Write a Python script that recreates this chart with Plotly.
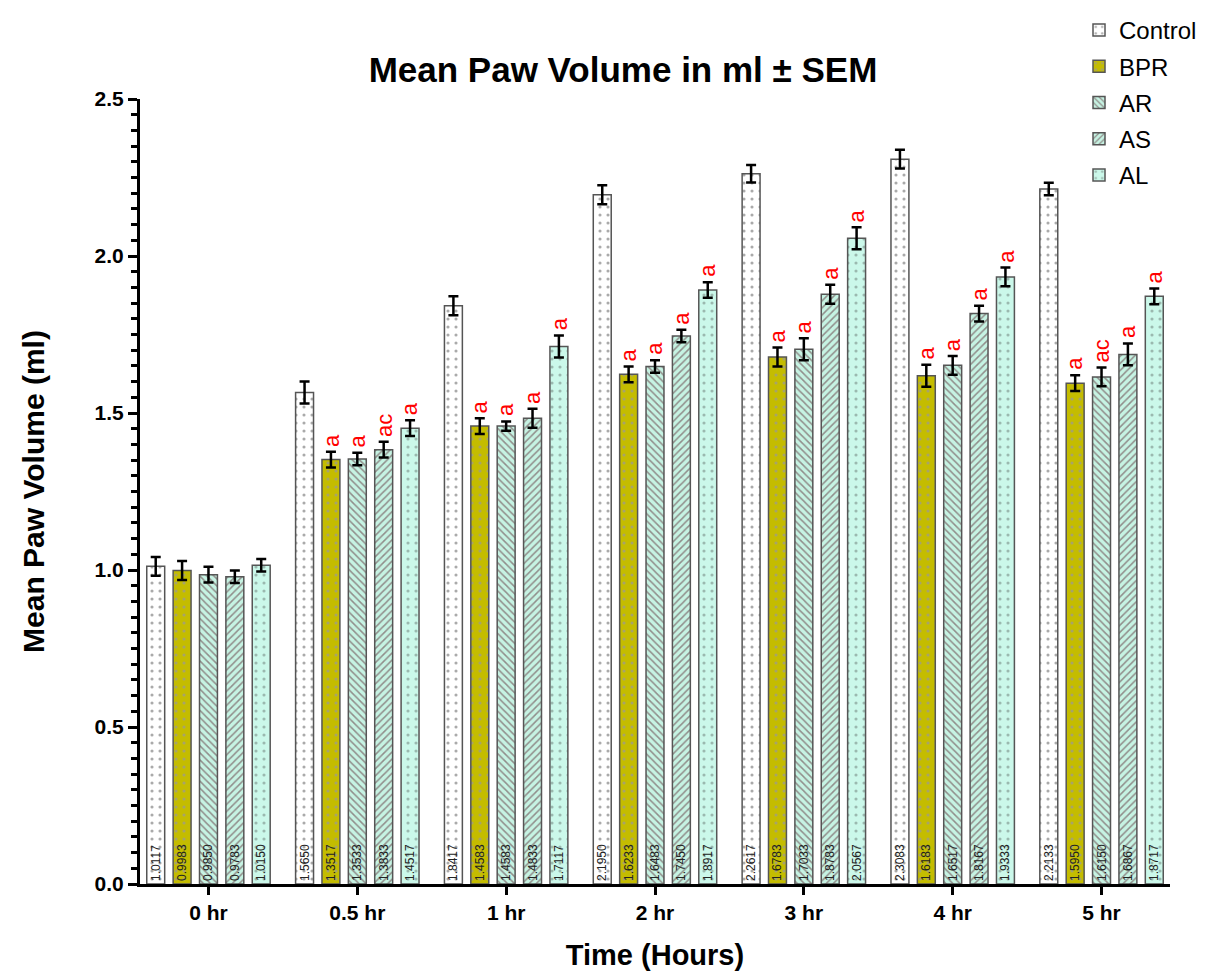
import plotly.graph_objects as go

categories = ["0 hr", "0.5 hr", "1 hr", "2 hr", "3 hr", "4 hr", "5 hr"]
series_names = ["Control", "BPR", "AR", "AS", "AL"]

control = [1.0117, 1.5650, 1.8417, 2.1950, 2.2617, 2.3083, 2.2133]
bpr = [0.9983, 1.3517, 1.4583, 1.6233, 1.6783, 1.6183, 1.5950]
ar = [0.9850, 1.3533, 1.4583, 1.6483, 1.7033, 1.6517, 1.6150]
as_ = [0.9783, 1.3833, 1.4833, 1.7450, 1.8783, 1.8167, 1.6867]
al = [1.0150, 1.4517, 1.7117, 1.8917, 2.0567, 1.9333, 1.8717]

sem_control = [0.030, 0.035, 0.030, 0.030, 0.028, 0.030, 0.020]
sem_bpr = [0.030, 0.025, 0.025, 0.025, 0.030, 0.035, 0.025]
sem_ar = [0.025, 0.020, 0.015, 0.020, 0.035, 0.030, 0.030]
sem_as = [0.020, 0.025, 0.030, 0.020, 0.030, 0.025, 0.035]
sem_al = [0.020, 0.025, 0.035, 0.025, 0.035, 0.030, 0.025]

sig_bpr = ["", "a", "a", "a", "a", "a", "a"]
sig_ar = ["", "a", "a", "a", "a", "a", "ac"]
sig_as = ["", "ac", "a", "a", "a", "a", "a"]
sig_al = ["", "a", "a", "a", "a", "a", "a"]

values = [control, bpr, ar, as_, al]
sems = [sem_control, sem_bpr, sem_ar, sem_as, sem_al]
sigs = [None, sig_bpr, sig_ar, sig_as, sig_al]

styles = [
    dict(bg="#ffffff", fg="#555555", shape=".", size=8, sol=0.12),
    dict(bg="#c4bc00", fg="#8a8ad0", shape=".", size=8, sol=0.12),
    dict(bg="#c6f3e3", fg="#5a2832", shape="\\", size=5, sol=0.3),
    dict(bg="#c6f3e3", fg="#5a2832", shape="/", size=5, sol=0.3),
    dict(bg="#cbf8ea", fg="#6a7a74", shape=".", size=8, sol=0.12),
]

FONT = "Liberation Sans, Arial, sans-serif"
W, H = 1197, 963  # page body adds an 8px offset

fig = go.Figure()
for name, vals, err, st in zip(series_names, values, sems, styles):
    fig.add_trace(go.Bar(
        name=name, x=categories, y=vals, legendgroup=name,
        text=[f"{v:.4f}" for v in vals],
        textposition="inside", insidetextanchor="start", textangle=-90,
        textfont=dict(size=12, color="#222222", family=FONT),
        constraintext="none",
        marker=dict(color=st["bg"],
                    line=dict(color="#555555", width=1.5),
                    pattern=dict(shape=st["shape"], fgcolor=st["fg"], bgcolor=st["bg"],
                                 size=st["size"], solidity=st["sol"], fillmode="overlay")),
        error_y=dict(type="data", array=err, color="black", thickness=2.5, width=5),
    ))

slot_px = 26.5
for i, (vals, err, sig) in enumerate(zip(values, sems, sigs)):
    if sig is None:
        continue
    for c, v, e, s in zip(categories, vals, err, sig):
        if not s:
            continue
        fig.add_annotation(x=c, y=v + e, text=s, showarrow=False, textangle=-90,
                           xshift=(i - 2) * slot_px, yshift=3, yanchor="bottom",
                           font=dict(size=22, color="red", family=FONT))

fig.update_layout(
    width=W, height=H,
    paper_bgcolor="white", plot_bgcolor="white",
    margin=dict(l=132, r=35, t=91, b=87, autoexpand=False),
    barmode="group", bargap=0.114, bargroupgap=0.32,
    font=dict(family=FONT, color="black"),
    title=dict(text="<b>Mean Paw Volume in ml ± SEM</b>", x=(623 - 8) / W, xanchor="center",
               y=1 - (70 - 8) / H, yanchor="middle", font=dict(size=35, family=FONT)),
    legend=dict(xref="container", yref="container", x=(1079 - 8) / W, y=1 + 18 / H,
                xanchor="left", yanchor="top", font=dict(size=24, family=FONT),
                tracegroupgap=2, itemwidth=30, bgcolor="rgba(0,0,0,0)"),
    showlegend=True,
)
fig.update_xaxes(
    range=[-0.46, 6.46], showline=True, linecolor="black", linewidth=3,
    ticks="outside", tickwidth=3, ticklen=8, tickcolor="black",
    tickprefix="<b>", ticksuffix="</b>",
    tickfont=dict(size=21, family=FONT), showgrid=False,
    title=dict(text="<b>Time (Hours)</b>", font=dict(size=29, family=FONT), standoff=30),
)
fig.update_yaxes(
    range=[0, 2.5], showline=True, linecolor="black", linewidth=3,
    ticks="outside", tickwidth=3, ticklen=9, tickcolor="black",
    dtick=0.5, tickformat=".1f", tickprefix="<b>", ticksuffix="</b>",
    tickfont=dict(size=21, family=FONT), showgrid=False, zeroline=False,
    minor=dict(dtick=0.05, ticks="outside", ticklen=6, tickwidth=3, tickcolor="black"),
    title=dict(text="<b>Mean Paw Volume (ml)</b>", font=dict(size=30, family=FONT), standoff=42),
)

fig.write_html("out.html")
